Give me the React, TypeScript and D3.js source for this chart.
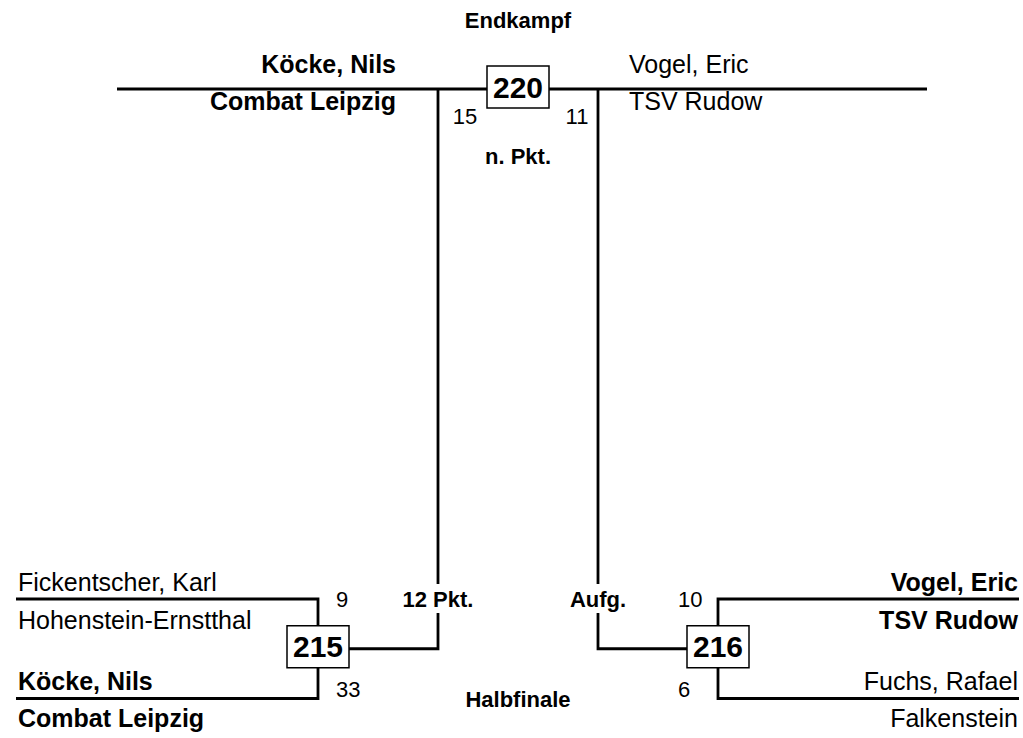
import { useEffect, useRef } from "react";
import * as d3 from "d3";

// rounds, top to bottom of the sheet
const rounds = ["Endkampf", "Halbfinale"];

// semifinal bouts (left, right)
const semiMatches = ["215", "216"];
const semiTopNames = ["Fickentscher, Karl", "Vogel, Eric"];
const semiTopClubs = ["Hohenstein-Ernstthal", "TSV Rudow"];
const semiBottomNames = ["Köcke, Nils", "Fuchs, Rafael"];
const semiBottomClubs = ["Combat Leipzig", "Falkenstein"];
const semiTopScores = [9, 10];
const semiBottomScores = [33, 6];
const semiResults = ["12 Pkt.", "Aufg."];
const semiWinners = ["bottom", "top"];

// final bout
const finalMatch = "220";
const finalNames = ["Köcke, Nils", "Vogel, Eric"];
const finalClubs = ["Combat Leipzig", "TSV Rudow"];
const finalScores = [15, 11];
const finalResult = "n. Pkt.";
const finalWinner = 0;

const FONT = "'Liberation Sans', Arial, Helvetica, sans-serif";

export default function App() {
  const ref = useRef<SVGSVGElement | null>(null);

  useEffect(() => {
    document.body.style.margin = "0";
    const width = 1023;
    const height = 738;
    const svg = d3.select(ref.current);
    svg.selectAll("*").remove();
    svg.attr("width", width).attr("height", height).attr("viewBox", `0 0 ${width} ${height}`);

    const cx = 518;
    const lw = 2.8;
    const boxW = 62;
    const boxH = 42;

    // positions
    const yTitle = d3.scaleOrdinal<string, number>().domain(rounds).range([28, 707]);
    const xSemi = d3.scalePoint<string>().domain(semiMatches).range([318, 718]);
    const xFeed = d3.scalePoint<string>().domain(semiMatches).range([cx - 80, cx + 80]);
    const ySlot = d3.scaleLinear().domain([0, 1]).range([599, 698.5]);
    const yFinal = 89;
    const yConn = ySlot(0.5);
    const outer = (i: number) => (i === 0 ? 16 : 1019);

    const g = svg.append("g").style("font-family", FONT).attr("fill", "#000");

    // titles
    g.selectAll("text.title")
      .data(rounds)
      .join("text")
      .attr("class", "title")
      .attr("x", cx)
      .attr("y", (d) => yTitle(d))
      .attr("text-anchor", "middle")
      .style("font-size", "22px")
      .style("font-weight", "bold")
      .text((d) => d);

    // final line
    g.append("line")
      .attr("x1", 117)
      .attr("x2", 927)
      .attr("y1", yFinal)
      .attr("y2", yFinal)
      .attr("stroke", "#000")
      .attr("stroke-width", lw + 0.3);

    // final verticals from the semis
    semiMatches.forEach((m, i) => {
      const xf = xFeed(m)!;
      const xs = xSemi(m)!;
      const inner = i === 0 ? xs + boxW / 2 : xs - boxW / 2;
      g.append("path")
        .attr("d", `M${xf},${yFinal} V${yConn} H${inner}`)
        .attr("fill", "none")
        .attr("stroke", "#000")
        .attr("stroke-width", lw);

      // semi bracket
      const o = outer(i);
      g.append("path")
        .attr("d", `M${o},${ySlot(0)} H${xs} V${ySlot(1)} H${o}`)
        .attr("fill", "none")
        .attr("stroke", "#000")
        .attr("stroke-width", lw);

      // result label over the vertical
      const ly = 607;
      g.append("rect")
        .attr("x", xf - 10)
        .attr("y", ly - 23)
        .attr("width", 20)
        .attr("height", 29)
        .attr("fill", "#fff");
      g.append("text")
        .attr("x", xf)
        .attr("y", ly)
        .attr("text-anchor", "middle")
        .style("font-size", "22px")
        .style("font-weight", "bold")
        .text(semiResults[i]);

      // scores
      const sx = i === 0 ? xs + 18 : xs - 40;
      g.append("text")
        .attr("x", sx)
        .attr("y", 607)
        .style("font-size", "22px")
        .text(semiTopScores[i]);
      g.append("text")
        .attr("x", sx)
        .attr("y", 697)
        .style("font-size", "22px")
        .text(semiBottomScores[i]);

      // names
      const anchor = i === 0 ? "start" : "end";
      const tx = i === 0 ? 18 : 1018;
      const rows = [
        { t: semiTopNames[i], y: 590.5, bold: semiWinners[i] === "top" },
        { t: semiTopClubs[i], y: 629, bold: semiWinners[i] === "top" },
        { t: semiBottomNames[i], y: 689.5, bold: semiWinners[i] === "bottom" },
        { t: semiBottomClubs[i], y: 727, bold: semiWinners[i] === "bottom" },
      ];
      g.selectAll(`text.semi${i}`)
        .data(rows)
        .join("text")
        .attr("class", `semi${i}`)
        .attr("x", tx)
        .attr("y", (d) => d.y)
        .attr("text-anchor", anchor)
        .style("font-size", "25px")
        .style("font-weight", (d) => (d.bold ? "bold" : "normal"))
        .text((d) => d.t);

      // semi box
      g.append("rect")
        .attr("x", xs - boxW / 2)
        .attr("y", yConn - 2 - boxH / 2)
        .attr("width", boxW)
        .attr("height", boxH)
        .attr("fill", "#fff")
        .attr("stroke", "#000")
        .attr("stroke-width", 1.5);
      g.append("text")
        .attr("x", xs)
        .attr("y", yConn - 2 + 10.5)
        .attr("text-anchor", "middle")
        .style("font-size", "30px")
        .style("font-weight", "bold")
        .text(m);
    });

    // final names
    finalNames.forEach((n, i) => {
      const bold = i === finalWinner;
      const anchor = i === 0 ? "end" : "start";
      const tx = i === 0 ? 396 : 629;
      g.append("text")
        .attr("x", tx)
        .attr("y", 73)
        .attr("text-anchor", anchor)
        .style("font-size", "25px")
        .style("font-weight", bold ? "bold" : "normal")
        .text(n);
      g.append("text")
        .attr("x", tx)
        .attr("y", 110)
        .attr("text-anchor", anchor)
        .style("font-size", "25px")
        .style("font-weight", bold ? "bold" : "normal")
        .text(finalClubs[i]);
      g.append("text")
        .attr("x", i === 0 ? 465 : 577)
        .attr("y", 124)
        .attr("text-anchor", "middle")
        .style("font-size", "22px")
        .text(finalScores[i]);
    });

    g.append("text")
      .attr("x", cx)
      .attr("y", 164)
      .attr("text-anchor", "middle")
      .style("font-size", "22px")
      .style("font-weight", "bold")
      .text(finalResult);

    // final box
    g.append("rect")
      .attr("x", cx - boxW / 2)
      .attr("y", yFinal - 2 - boxH / 2)
      .attr("width", boxW)
      .attr("height", boxH)
      .attr("fill", "#fff")
      .attr("stroke", "#000")
      .attr("stroke-width", 1.5);
    g.append("text")
      .attr("x", cx)
      .attr("y", yFinal - 2 + 10.5)
      .attr("text-anchor", "middle")
      .style("font-size", "30px")
      .style("font-weight", "bold")
      .text(finalMatch);
  }, []);

  return <svg ref={ref} style={{ display: "block" }} role="img" aria-label="Turnierbaum Endkampf und Halbfinale" />;
}
